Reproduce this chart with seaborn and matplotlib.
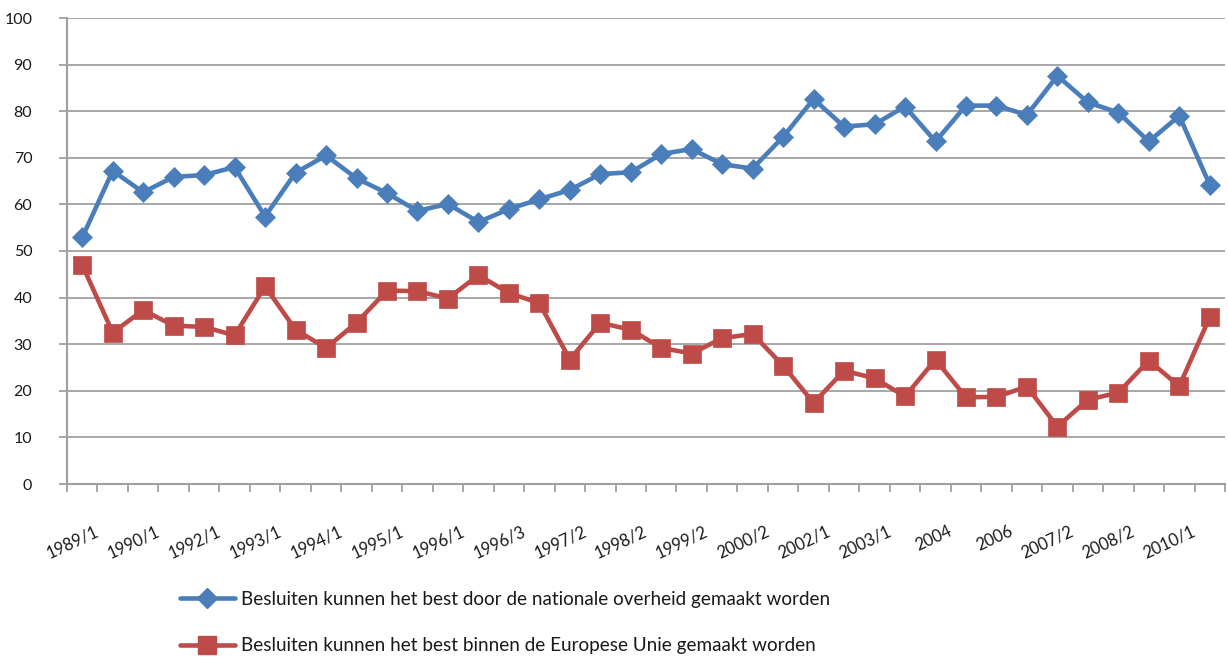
import numpy as np
import pandas as pd
import matplotlib
matplotlib.use("Agg")
import matplotlib.pyplot as plt
import seaborn as sns
from matplotlib.lines import Line2D
from matplotlib.transforms import ScaledTranslation

# Survey waves; only every second wave carries a label on the axis
wave_labels = ["1989/1", "1990/1", "1992/1", "1993/1", "1994/1", "1995/1",
               "1996/1", "1996/3", "1997/2", "1998/2", "1999/2", "2000/2",
               "2002/1", "2003/1", "2004", "2006", "2007/2", "2008/2", "2010/1"]

nationaal = [52.9, 67.2, 62.6, 65.9, 66.3, 68.0, 57.4, 66.8, 70.5, 65.6,
             62.4, 58.6, 60.1, 56.2, 59.0, 61.1, 63.1, 66.5, 66.9, 70.8,
             71.9, 68.6, 67.7, 74.5, 82.6, 76.7, 77.2, 81.0, 73.5, 81.2,
             81.2, 79.2, 87.6, 81.9, 79.7, 73.5, 79.0, 64.2]

europees = [47.0, 32.5, 37.3, 34.0, 33.7, 31.9, 42.4, 33.1, 29.2, 34.6,
            41.5, 41.4, 39.8, 44.8, 41.0, 38.8, 26.7, 34.6, 33.1, 29.2,
            28.0, 31.3, 32.2, 25.4, 17.4, 24.3, 22.7, 18.8, 26.7, 18.6,
            18.7, 20.9, 12.3, 18.1, 19.6, 26.5, 21.0, 35.8]

series_names = ["Besluiten kunnen het best door de nationale overheid gemaakt worden",
                "Besluiten kunnen het best binnen de Europese Unie gemaakt worden"]

blue = "#4A7EBB"
red = "#BE4B48"
grey = "#A0A0A0"

sns.set_theme(style="white")
plt.rcParams["font.family"] = ["Lato", "DejaVu Sans"]

n = len(nationaal)
meting = np.arange(n)
df_nat = pd.DataFrame({"meting": meting, "percentage": nationaal})
df_eu = pd.DataFrame({"meting": meting, "percentage": europees})

W, H = 1228, 659
fig = plt.figure(figsize=(W / 100, H / 100), dpi=100)
ax = fig.add_axes([67 / W, 1 - 484 / H, (1225 - 67) / W, (484 - 18) / H])

sns.lineplot(data=df_nat, x="meting", y="percentage", ax=ax, color=blue,
             linewidth=3.3, marker="D", markersize=10, markeredgewidth=0.5,
             markeredgecolor=blue, zorder=3)
sns.lineplot(data=df_eu, x="meting", y="percentage", ax=ax, color=red,
             linewidth=3.3, marker="s", markersize=13.5, markeredgewidth=0.5,
             markeredgecolor=red, zorder=3)

ax.set_xlim(-0.5, n - 0.5)
ax.set_ylim(0, 100)
ax.set_xlabel("")
ax.set_ylabel("")

# horizontal gridlines
ax.set_yticks(np.arange(0, 101, 10))
ax.yaxis.grid(True, color=grey, linewidth=1.3)
ax.xaxis.grid(False)
ax.set_axisbelow(True)

for side in ["top", "right"]:
    ax.spines[side].set_visible(False)
for side in ["left", "bottom"]:
    ax.spines[side].set_color(grey)
    ax.spines[side].set_linewidth(1.5)

ax.tick_params(axis="y", which="major", direction="out", length=6, width=1.3,
               color=grey, pad=19, labelsize=11.5, labelcolor="#1a1a1a")
ax.yaxis.set_tick_params(left=True)

# category boundaries carry the small tick marks, labels sit on every second wave
ax.set_xticks(np.arange(-0.5, n, 1.0), minor=True)
ax.set_xticks(np.arange(0, n, 2))
ax.set_xticklabels(wave_labels)
ax.tick_params(axis="x", which="minor", direction="out", length=6, width=1.3,
               color=grey, bottom=True)
ax.tick_params(axis="x", which="major", length=0, pad=28, labelsize=12,
               labelcolor="#1a1a1a")
shift = ScaledTranslation(12 / 100, 0, fig.dpi_scale_trans)
for lab in ax.get_xticklabels():
    lab.set_rotation(25)
    lab.set_ha("right")
    lab.set_va("top")
    lab.set_rotation_mode("anchor")
    lab.set_transform(lab.get_transform() + shift)

handles = [
    Line2D([], [], color=blue, linewidth=3.3, marker="D", markersize=10),
    Line2D([], [], color=red, linewidth=3.3, marker="s", markersize=13.5),
]
fig.legend(handles, series_names, loc="upper left",
           bbox_to_anchor=(180 / W, 1 - 591 / H), frameon=False,
           fontsize=13.6, handlelength=2.9, handletextpad=0.35,
           labelspacing=1.55, borderpad=0, borderaxespad=0,
           labelcolor="#1a1a1a")

fig.savefig("out.png", dpi=100)
